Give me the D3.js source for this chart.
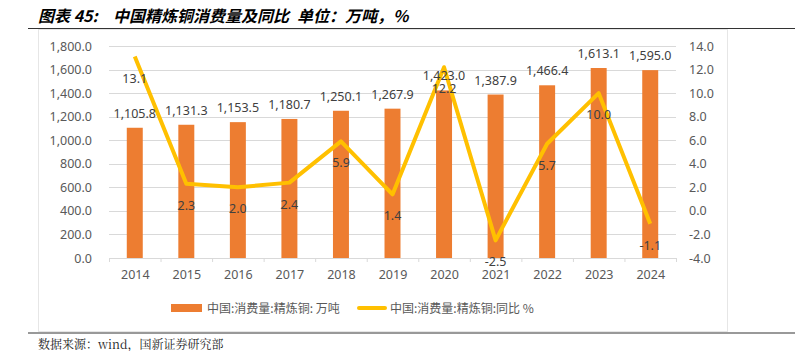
<!DOCTYPE html>
<html>
<head>
<meta charset="utf-8">
<script src="https://cdn.jsdelivr.net/npm/d3@7"></script>
<style>
  body { margin: 0; background: #fff; }
  text { font-family: "Noto Sans CJK SC", "Noto Sans", sans-serif; }
</style>
</head>
<body>
<div id="chart"></div>
<script>
// data
const years = ["2014", "2015", "2016", "2017", "2018", "2019", "2020", "2021", "2022", "2023", "2024"];
const consumption = [1105.8, 1131.3, 1153.5, 1180.7, 1250.1, 1267.9, 1423.0, 1387.9, 1466.4, 1613.1, 1595.0];
const yoy = [13.1, 2.3, 2.0, 2.4, 5.9, 1.4, 12.2, -2.5, 5.7, 10.0, -1.1];
const leftTicks = [0, 200, 400, 600, 800, 1000, 1200, 1400, 1600, 1800];
const rightTicks = [-4, -2, 0, 2, 4, 6, 8, 10, 12, 14];
const barName = "中国:消费量:精炼铜: 万吨";
const lineName = "中国:消费量:精炼铜:同比 %";

const width = 795, height = 351;
const plot = { left: 109, right: 676, top: 46, bottom: 258 };

// plain hyphen for negatives, like the original
const locale = d3.formatLocale({ decimal: ".", thousands: ",", grouping: [3], currency: ["", ""], minus: "-" });
const fmtL = locale.format(",.1f");
const fmtR = locale.format(".1f");

const svg = d3.select("#chart").append("svg")
    .attr("width", width)
    .attr("height", height);

// title + rules
const title = svg.append("g")
    .attr("font-size", 16).attr("font-weight", "bold").attr("font-style", "italic").attr("fill", "#000");
title.append("text").attr("x", 38).attr("y", 22).text("图表 45:");
title.append("text").attr("x", 113).attr("y", 22).text("中国精炼铜消费量及同比");
title.append("text").attr("x", 297).attr("y", 22).text("单位：万吨，%");
svg.append("line").attr("x1", 28).attr("x2", 795).attr("y1", 28.5).attr("y2", 28.5)
    .attr("stroke", "#333").attr("stroke-width", 1);

// chart frame
svg.append("rect").attr("x", 38.5).attr("y", 29.5).attr("width", 689).attr("height", 302)
    .attr("fill", "none").attr("stroke", "#e6e6e6");

svg.append("line").attr("x1", 28).attr("x2", 795).attr("y1", 333).attr("y2", 333)
    .attr("stroke", "#999").attr("stroke-width", 2);
svg.append("text").attr("x", 38).attr("y", 349)
    .attr("font-size", 12).attr("fill", "#222")
    .style("font-family", "'Noto Serif CJK SC', 'Noto Sans CJK SC', serif")
    .text("数据来源：wind，国新证券研究部");

// scales
const x = d3.scaleBand().domain(years).range([plot.left, plot.right]).paddingInner(0.69).paddingOuter(0.345);
const xc = d3.scalePoint().domain(years).range([plot.left, plot.right]).padding(0.5);
const yL = d3.scaleLinear().domain([0, 1800]).range([plot.bottom, plot.top]);
const yR = d3.scaleLinear().domain([-4, 14]).range([plot.bottom, plot.top]);

// gridlines
svg.append("g").selectAll("line").data(leftTicks.slice(1)).join("line")
    .attr("x1", plot.left).attr("x2", plot.right)
    .attr("y1", d => Math.round(yL(d)) + 0.5).attr("y2", d => Math.round(yL(d)) + 0.5)
    .attr("stroke", "#d9d9d9");

// left axis
const leftAxis = svg.append("g")
    .attr("transform", `translate(${plot.left},0)`)
    .call(d3.axisLeft(yL).tickValues(leftTicks).tickFormat(fmtL).tickSize(0).tickPadding(17));
leftAxis.select(".domain").remove();
leftAxis.selectAll("text").attr("font-size", 12.5).attr("fill", "#595959")
    .style("font-family", "'Noto Sans', sans-serif");

// right axis
const rightAxis = svg.append("g")
    .attr("transform", `translate(${plot.right},0)`)
    .call(d3.axisRight(yR).tickValues(rightTicks).tickFormat(fmtR).tickSize(0).tickPadding(13));
rightAxis.select(".domain").remove();
rightAxis.selectAll("text").attr("font-size", 12.5).attr("fill", "#595959")
    .style("font-family", "'Noto Sans', sans-serif");

// bottom axis
const bottomAxis = svg.append("g")
    .attr("transform", `translate(0,${plot.bottom})`)
    .call(d3.axisBottom(xc).tickSize(0).tickPadding(12));
bottomAxis.select(".domain").attr("stroke", "#d9d9d9");
bottomAxis.selectAll("text").attr("font-size", 12.5).attr("fill", "#595959")
    .style("font-family", "'Noto Sans', sans-serif");
// category separator ticks
svg.append("g").selectAll("line").data(years.concat(["end"])).join("line")
    .attr("x1", (d, i) => plot.left + i * (plot.right - plot.left) / years.length + 0.5)
    .attr("x2", (d, i) => plot.left + i * (plot.right - plot.left) / years.length + 0.5)
    .attr("y1", plot.bottom).attr("y2", plot.bottom + 4)
    .attr("stroke", "#d9d9d9");

// bars
svg.append("g").selectAll("rect").data(consumption).join("rect")
    .attr("x", (d, i) => x(years[i]))
    .attr("width", x.bandwidth())
    .attr("y", d => yL(d))
    .attr("height", d => plot.bottom - yL(d))
    .attr("fill", "#ed7d31");

// line
const line = d3.line().x((d, i) => xc(years[i])).y(d => yR(d));
svg.append("path").datum(yoy)
    .attr("d", line)
    .attr("fill", "none")
    .attr("stroke", "#ffc000")
    .attr("stroke-width", 4)
    .attr("stroke-linejoin", "round");

// bar labels
svg.append("g").selectAll("text").data(consumption).join("text")
    .attr("x", (d, i) => xc(years[i]))
    .attr("y", d => yL(d) - 10)
    .attr("text-anchor", "middle")
    .attr("font-size", 12.5).attr("fill", "#404040")
    .style("font-family", "'Noto Sans', sans-serif")
    .text(fmtL);

// line labels
svg.append("g").selectAll("text").data(yoy).join("text")
    .attr("x", (d, i) => xc(years[i]))
    .attr("y", d => yR(d) + 26)
    .attr("text-anchor", "middle")
    .attr("font-size", 12.5).attr("fill", "#404040")
    .style("font-family", "'Noto Sans', sans-serif")
    .text(fmtR);

// legend
const legend = svg.append("g").attr("font-size", 12).attr("fill", "#595959");
legend.append("rect").attr("x", 171).attr("y", 304).attr("width", 31).attr("height", 8).attr("fill", "#ed7d31");
legend.append("text").attr("x", 207).attr("y", 312.5).attr("fill", "#595959").text(barName);
legend.append("line").attr("x1", 359).attr("x2", 385).attr("y1", 308).attr("y2", 308)
    .attr("stroke", "#ffc000").attr("stroke-width", 4).attr("stroke-linecap", "round");
legend.append("text").attr("x", 390).attr("y", 312.5).attr("fill", "#595959").text(lineName);
</script>
</body>
</html>
